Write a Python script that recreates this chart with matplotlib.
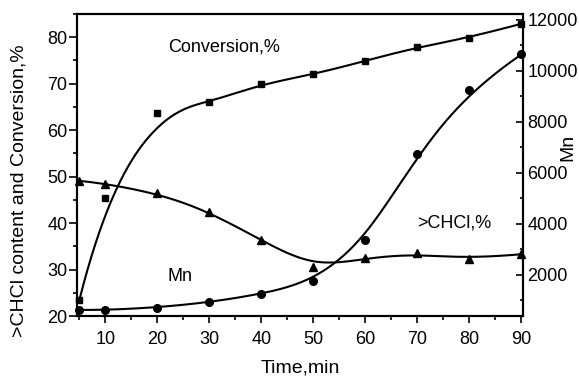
import matplotlib
matplotlib.use('Agg')
import matplotlib.pyplot as plt
import numpy as np
from matplotlib.ticker import MultipleLocator

matplotlib.rcParams.update({
    'font.family': ['Liberation Sans', 'DejaVu Sans'],
    'font.size': 13,
    'axes.linewidth': 1.5,
})

# ── data ───────────────────────────────────────────────────
TIME = [5, 10, 20, 30, 40, 50, 60, 70, 80, 90]
CONVERSION = [23.4, 45.5, 63.7, 66.0, 69.9, 72.0, 74.9, 77.9, 79.9, 82.9]
CHCL = [49.1, 48.5, 46.5, 42.4, 36.3, 30.5, 32.4, 33.5, 32.3, 33.3]
MN = [630, 620, 720, 930, 1250, 1750, 3370, 6750, 9250, 10650]


def bspline(x, y, n_pts=400, deg=3):
    """Clamped B-spline using the data points as control points (Origin-style)."""
    ctrl = np.column_stack([x, y]).astype(float)
    n = len(ctrl)
    knots = np.concatenate([np.zeros(deg), np.arange(n - deg + 1),
                            np.full(deg, n - deg)]).astype(float)
    u = np.linspace(0, n - deg, n_pts)
    u[-1] -= 1e-9
    N = np.zeros((n_pts, len(knots) - 1))
    for i in range(len(knots) - 1):
        N[:, i] = (knots[i] <= u) & (u < knots[i + 1])
    for d in range(1, deg + 1):
        Nn = np.zeros((n_pts, len(knots) - 1 - d))
        for i in range(len(knots) - 1 - d):
            den1 = knots[i + d] - knots[i]
            den2 = knots[i + d + 1] - knots[i + 1]
            a = (u - knots[i]) / den1 * N[:, i] if den1 > 0 else 0.0
            b = (knots[i + d + 1] - u) / den2 * N[:, i + 1] if den2 > 0 else 0.0
            Nn[:, i] = a + b
        N = Nn
    pts = N @ ctrl
    return pts[:, 0], pts[:, 1]


fig = plt.figure(figsize=(5.79, 3.78), dpi=100)
ax = fig.add_axes([0.133, 0.164, 0.7703, 0.799])
ax2 = ax.twinx()

# left axis: conversion + >CHCl
for vals, mk, ms in [(CONVERSION, 's', 4.8), (CHCL, '^', 5.8)]:
    xs, ys = bspline(TIME, vals)
    ax.plot(xs, ys, color='k', lw=1.5)
    ax.plot(TIME, vals, mk, color='k', ms=ms, clip_on=False)

# right axis: Mn
xs, ys = bspline(TIME, MN)
ax2.plot(xs, ys, color='k', lw=1.5)
ax2.plot(TIME, MN, 'o', color='k', ms=5.5, clip_on=False)

ax.set_xlim(4.56, 90.3)
ax.set_ylim(20, 85)
ax2.set_ylim(390, 12235)

ax.set_xticks(range(10, 91, 10))
ax.xaxis.set_minor_locator(MultipleLocator(5))
ax.set_yticks(range(20, 81, 10))
ax.yaxis.set_minor_locator(MultipleLocator(5))
ax2.set_yticks(range(2000, 12001, 2000))
ax2.yaxis.set_minor_locator(MultipleLocator(1000))

ax.tick_params(axis='x', which='major', direction='out', length=5, width=1.2, pad=6, top=False)
ax.tick_params(axis='x', which='minor', direction='out', length=3, width=1.2, top=False)
ax.tick_params(axis='y', which='major', direction='out', length=6, width=1.2, pad=1)
ax.tick_params(axis='y', which='minor', direction='out', length=3, width=1.2)
ax2.tick_params(axis='y', which='major', direction='in', length=5, width=1.2, pad=3)
ax2.tick_params(axis='y', which='minor', direction='in', length=2.5, width=1.2)

# annotations
ax.text(22.0, 77.9, 'Conversion,%', fontsize=13, va='center', ha='left')
ax.text(22.0, 28.6, 'Mn', fontsize=13, va='center', ha='left')
ax.text(69.9, 40.0, '>CHCl,%', fontsize=13, va='center', ha='left')

# axis labels
fig.text(19 / 579, 1 - 191 / 378, '>CHCl content and Conversion,%',
         rotation=90, ha='center', va='center', fontsize=14)
fig.text(568 / 579, 1 - 147 / 378, 'Mn', rotation=90,
         ha='center', va='center', fontsize=14)
fig.text(300 / 579, 1 - 368 / 378, 'Time,min', ha='center', va='center',
         fontsize=14)

plt.savefig('out.png', dpi=100)
plt.close()
